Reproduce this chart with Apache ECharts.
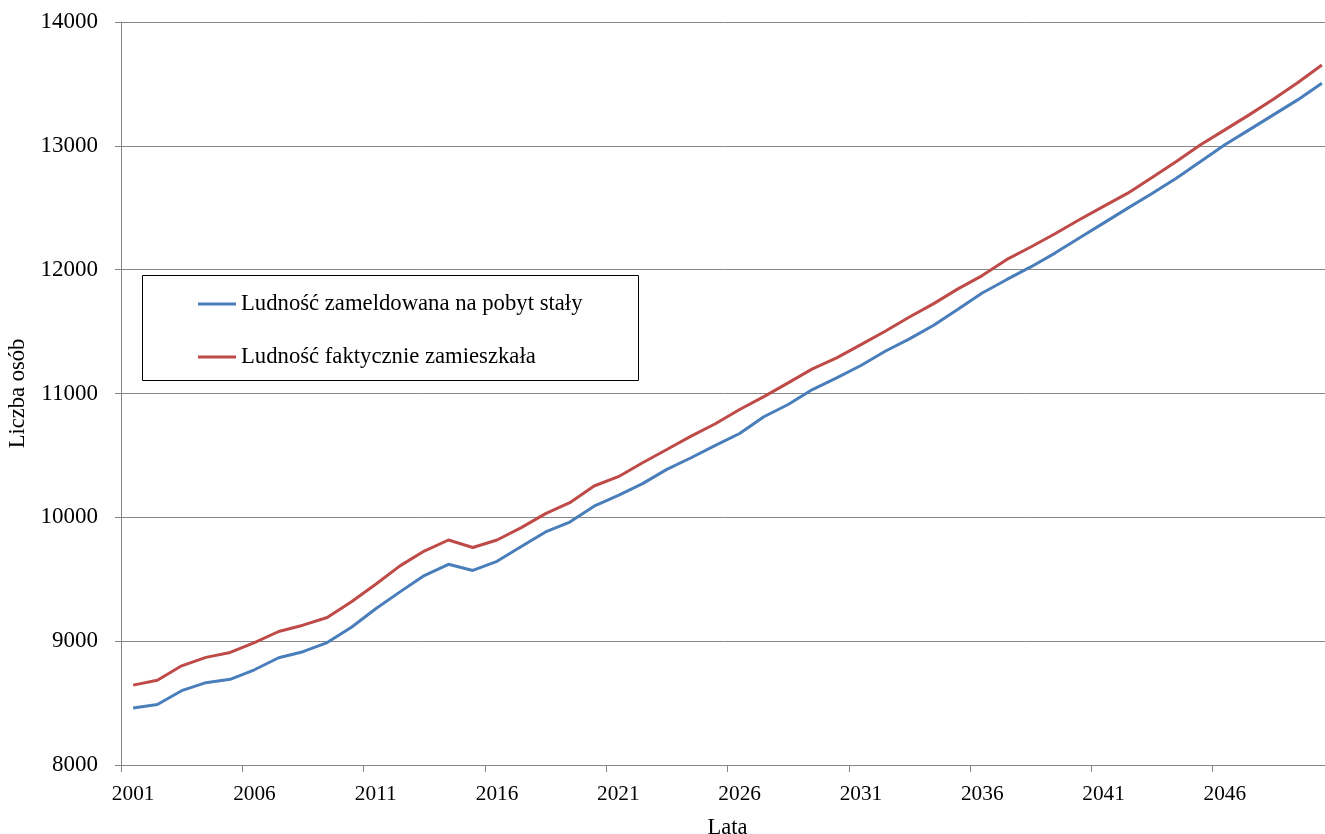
<!DOCTYPE html>
<html>
<head>
<meta charset="utf-8">
<script src="https://cdn.jsdelivr.net/npm/echarts@6/dist/echarts.min.js"></script>
<style>
  html, body { margin: 0; padding: 0; background: #ffffff; }
  #chart { width: 1325px; height: 834px; }
</style>
</head>
<body>
<div id="chart"></div>
<script>
const years = [];
for (let y = 2001; y <= 2050; y++) years.push(String(y));

const seriesNames = ['Ludność zameldowana na pobyt stały', 'Ludność faktycznie zamieszkała'];

const zameldowana = [
  8460, 8489, 8600, 8665, 8692, 8769, 8866, 8915, 8989, 9112,
  9262, 9398, 9530, 9621, 9571, 9645, 9765, 9882, 9962, 10090,
  10177, 10272, 10387, 10481, 10581, 10677, 10812, 10911, 11032, 11126,
  11226, 11341, 11441, 11551, 11680, 11812, 11919, 12022, 12134, 12256,
  12376, 12497, 12615, 12739, 12873, 13008, 13129, 13250, 13371, 13506
];

const faktycznie = [
  8645, 8685, 8801, 8869, 8909, 8989, 9078, 9129, 9191, 9318,
  9460, 9608, 9728, 9817, 9756, 9817, 9917, 10030, 10118, 10253,
  10328, 10441, 10548, 10656, 10756, 10871, 10975, 11086, 11199, 11288,
  11395, 11503, 11618, 11726, 11845, 11952, 12081, 12183, 12290, 12403,
  12511, 12618, 12745, 12873, 13008, 13129, 13250, 13376, 13510, 13653
];

const yTicks = { min: 8000, max: 14000, interval: 1000 };
const xTitle = 'Lata';
const yTitle = 'Liczba osób';

const FONT = '"Liberation Serif", "Times New Roman", serif';
const GRAY = '#868686';

const chart = echarts.init(document.getElementById('chart'), null, { renderer: 'canvas' });

chart.setOption({
  animation: false,
  backgroundColor: '#ffffff',
  textStyle: { fontFamily: FONT, color: '#000' },
  grid: { left: 121, right: -9, top: 22, bottom: 69, outerBoundsMode: 'none', containLabel: false },
  graphic: [{
    type: 'rect',
    left: 142, top: 275,
    shape: { width: 496, height: 105 },
    style: { fill: '#ffffff', stroke: '#000000', lineWidth: 1 },
    z: 5
  }],
  legend: {
    orient: 'vertical',
    left: 198,
    top: 292,
    padding: 0,
    itemGap: 29,
    itemWidth: 38,
    itemHeight: 3,
    icon: 'rect',
    z: 10,
    textStyle: { fontFamily: FONT, fontSize: 22.7, color: '#000', lineHeight: 24 },
    data: seriesNames
  },
  xAxis: {
    type: 'category',
    data: years,
    boundaryGap: true,
    name: xTitle,
    nameLocation: 'middle',
    nameGap: 52,
    nameTextStyle: { fontFamily: FONT, fontSize: 22.5, color: '#000' },
    axisLine: { lineStyle: { color: GRAY, width: 1 } },
    axisTick: { show: true, interval: 4, length: 7, lineStyle: { color: GRAY } },
    axisLabel: { interval: 4, margin: 19, fontFamily: FONT, fontSize: 21.3, color: '#000' },
    splitLine: { show: false }
  },
  yAxis: {
    type: 'value',
    min: yTicks.min,
    max: yTicks.max,
    interval: yTicks.interval,
    name: yTitle,
    nameLocation: 'middle',
    nameGap: 80,
    nameTextStyle: { fontFamily: FONT, fontSize: 22.5, color: '#000' },
    axisLine: { show: true, lineStyle: { color: GRAY, width: 1 } },
    axisTick: { show: true, length: 6, lineStyle: { color: GRAY } },
    axisLabel: { margin: 23, fontFamily: FONT, fontSize: 23, color: '#000', formatter: function (v) { return String(v); } },
    splitLine: { show: true, lineStyle: { color: GRAY, width: 1 } }
  },
  series: [
    {
      name: seriesNames[0],
      type: 'line',
      data: zameldowana,
      symbol: 'none',
      lineStyle: { color: '#4A7EBB', width: 3 },
      itemStyle: { color: '#4A7EBB' }
    },
    {
      name: seriesNames[1],
      type: 'line',
      data: faktycznie,
      symbol: 'none',
      lineStyle: { color: '#BE4B48', width: 3 },
      itemStyle: { color: '#BE4B48' }
    }
  ]
});
</script>
</body>
</html>
